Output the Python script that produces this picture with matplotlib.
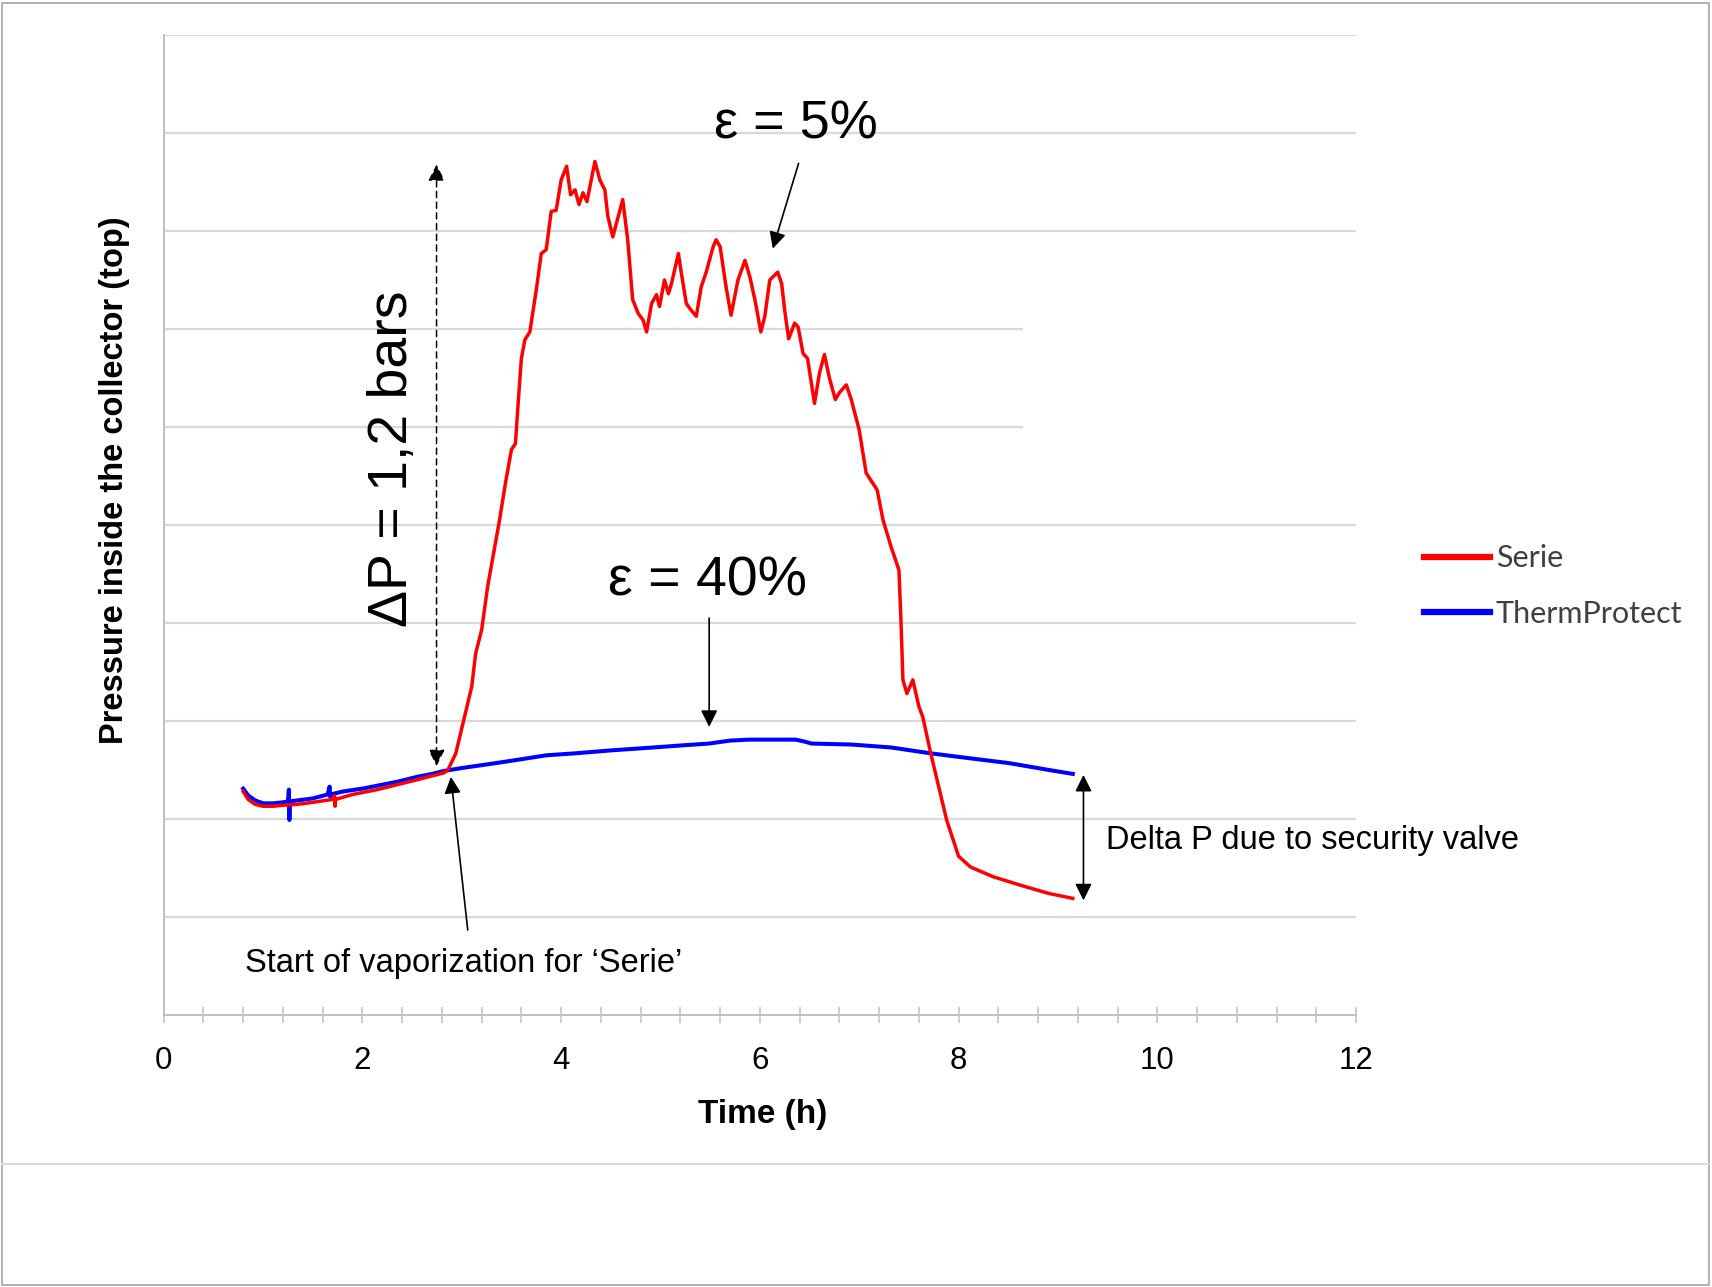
import matplotlib
matplotlib.use('Agg')
import matplotlib.pyplot as plt
from matplotlib.patches import Rectangle
from matplotlib.lines import Line2D

plt.rcParams['font.family'] = ['Liberation Sans', 'DejaVu Sans']

# ---------------- data ----------------
series_names = ['Serie', 'ThermProtect']

time_serie = [0.80, 0.85, 0.92, 1.00, 1.10, 1.20, 1.35, 1.50, 1.70, 1.72, 1.725, 1.73,
              1.90, 2.15, 2.35, 2.55, 2.70, 2.82, 2.86, 2.94, 3.02, 3.10, 3.14, 3.20,
              3.26, 3.32, 3.38, 3.44, 3.50, 3.54, 3.57, 3.60, 3.635, 3.685, 3.75, 3.80,
              3.85, 3.90, 3.95, 4.00, 4.055, 4.095, 4.14, 4.18, 4.22, 4.26, 4.34, 4.39,
              4.44, 4.47, 4.52, 4.62, 4.67, 4.72, 4.775, 4.825, 4.86, 4.91, 4.96, 4.99,
              5.04, 5.08, 5.11, 5.18, 5.21, 5.26, 5.31, 5.36, 5.41, 5.46, 5.53, 5.56,
              5.60, 5.66, 5.71, 5.78, 5.85, 5.90, 5.95, 5.97, 6.01, 6.05, 6.10, 6.13,
              6.18, 6.22, 6.25, 6.29, 6.35, 6.385, 6.435, 6.48, 6.55, 6.60, 6.65, 6.70,
              6.76, 6.80, 6.87, 6.92, 7.00, 7.07, 7.18, 7.24, 7.32, 7.40, 7.42, 7.44,
              7.48, 7.54, 7.60, 7.64, 7.72, 7.80, 7.88, 8.00, 8.12, 8.35, 8.67, 8.91, 9.15]
p_serie = [2.28, 2.20, 2.15, 2.13, 2.13, 2.14, 2.15, 2.17, 2.20, 2.24, 2.13, 2.20,
           2.25, 2.30, 2.35, 2.40, 2.44, 2.47, 2.50, 2.67, 3.01, 3.35, 3.69, 3.93,
           4.37, 4.71, 5.05, 5.43, 5.77, 5.83, 6.28, 6.70, 6.89, 6.97, 7.40, 7.77,
           7.81, 8.20, 8.21, 8.52, 8.66, 8.37, 8.42, 8.27, 8.39, 8.30, 8.71, 8.52,
           8.42, 8.15, 7.94, 8.32, 7.91, 7.30, 7.16, 7.09, 6.97, 7.26, 7.35, 7.23,
           7.50, 7.36, 7.46, 7.77, 7.57, 7.26, 7.19, 7.13, 7.43, 7.58, 7.84, 7.91,
           7.84, 7.43, 7.14, 7.50, 7.70, 7.53, 7.30, 7.19, 6.97, 7.13, 7.50, 7.53,
           7.58, 7.46, 7.19, 6.90, 7.06, 7.02, 6.75, 6.70, 6.24, 6.55, 6.74, 6.50,
           6.28, 6.35, 6.43, 6.28, 5.97, 5.53, 5.36, 5.05, 4.78, 4.54, 4.03, 3.42,
           3.28, 3.42, 3.15, 3.04, 2.67, 2.33, 1.99, 1.62, 1.51, 1.41, 1.31, 1.24, 1.19]

time_therm = [0.80, 0.85, 0.92, 1.00, 1.10, 1.20, 1.25, 1.26, 1.265, 1.27, 1.35, 1.50,
              1.65, 1.67, 1.675, 1.68, 1.80, 2.00, 2.15, 2.35, 2.55, 2.70, 2.82, 3.00,
              3.34, 3.60, 3.85, 4.14, 4.50, 4.93, 5.20, 5.49, 5.70, 5.89, 6.10, 6.36,
              6.45, 6.52, 6.92, 7.32, 7.72, 8.11, 8.51, 8.91, 9.15]
p_therm = [2.31, 2.24, 2.19, 2.16, 2.16, 2.17, 2.18, 2.30, 1.99, 2.18, 2.19, 2.21,
           2.25, 2.33, 2.23, 2.25, 2.28, 2.31, 2.34, 2.38, 2.43, 2.46, 2.49, 2.52,
           2.57, 2.61, 2.65, 2.67, 2.70, 2.73, 2.75, 2.77, 2.80, 2.81, 2.81, 2.81,
           2.79, 2.77, 2.76, 2.73, 2.67, 2.62, 2.57, 2.50, 2.46]

x_major_ticks = [0, 2, 4, 6, 8, 10, 12]
x_tick_labels = ['0', '2', '4', '6', '8', '10', '12']
x_minor_ticks = [0.4, 0.8, 1.2, 1.6, 2.4, 2.8, 3.2, 3.6, 4.4, 4.8, 5.2, 5.6,
                 6.4, 6.8, 7.2, 7.6, 8.4, 8.8, 9.2, 9.6, 10.4, 10.8, 11.2, 11.6]
y_grid = [1, 2, 3, 4, 5, 6, 7, 8, 9, 10]

# ---------------- figure ----------------
W, H = 1712, 1287
fig = plt.figure(figsize=(W / 100, H / 100), dpi=100)
fig.patch.set_facecolor('white')

# outer frame and separator line
fig.add_artist(Rectangle((2 / W, 1 - 1285 / H), 1707 / W, 1282 / H,
                         transform=fig.transFigure, fill=False,
                         edgecolor='#a6a6a6', lw=1.2))
fig.add_artist(Line2D([2 / W, 1709 / W], [1 - 1164 / H, 1 - 1164 / H],
                      transform=fig.transFigure, color='#d9d9d9', lw=1.5))

ax = fig.add_axes([163.7 / W, 1 - 1015 / H, (1356 - 163.7) / W, (1015 - 35) / H])
ax.set_xlim(0, 12)
ax.set_ylim(0, 10)

grid_c = '#d9d9d9'
for yv in y_grid:
    if yv in (6, 7):
        ax.axhline(yv, xmin=0, xmax=8.64 / 12, color=grid_c, lw=1.6, zorder=0)
    else:
        ax.axhline(yv, color=grid_c, lw=1.6, zorder=0)

for s in ('top', 'right'):
    ax.spines[s].set_visible(False)
for s in ('left', 'bottom'):
    ax.spines[s].set_color('#bfbfbf')
    ax.spines[s].set_linewidth(1.4)

ax.set_yticks([])
ax.set_xticks(x_major_ticks)
ax.set_xticklabels(x_tick_labels)
ax.set_xticks(x_minor_ticks, minor=True)
ax.tick_params(axis='x', which='both', direction='inout', length=12, width=1.1,
               color='#bfbfbf')
ax.tick_params(axis='x', which='major', labelsize=22.5, pad=16.5, labelcolor='black')

l1, = ax.plot(time_serie, p_serie, color='#ff0000', lw=2.5, zorder=3,
              label=series_names[0])
l2, = ax.plot(time_therm, p_therm, color='#0000ff', lw=2.9, zorder=2,
              label=series_names[1])

# axis titles
fig.text(123 / W, 1 - 480 / H, 'Pressure inside the collector (top)', rotation=90,
         rotation_mode='anchor', ha='center', va='baseline', fontsize=23.5,
         fontweight='bold')
fig.text(763 / W, 1 - 1122.7 / H, 'Time (h)', ha='center', va='baseline',
         fontsize=24, fontweight='bold')

# legend
leg = ax.legend(handles=[l1, l2], loc='center left',
                bbox_to_anchor=(1424 / W, 1 - 586 / H),
                bbox_transform=fig.transFigure, frameon=False,
                handlelength=2.15, handletextpad=0.2, labelspacing=0.9,
                borderpad=0, borderaxespad=0,
                prop={'family': 'Lato', 'size': 22})
for ln in leg.get_lines():
    ln.set_linewidth(4.5)
for t in leg.get_texts():
    t.set_color('#404040')

# annotations
arr = dict(arrowstyle='-|>', color='black', lw=1.2, mutation_scale=25,
           shrinkA=0, shrinkB=0)
arr2 = dict(arrowstyle='<|-|>', color='black', lw=1.2, mutation_scale=25,
            shrinkA=0, shrinkB=0)

ax.text(6.36, 8.94, 'ε = 5%', fontsize=39, ha='center', va='baseline')
ax.annotate('', xy=(6.13, 7.82), xytext=(6.39, 8.69), arrowprops=arr)

ax.text(2.45, 5.68, 'ΔP = 1,2 bars', rotation=90, rotation_mode='anchor',
        ha='center', va='baseline', fontsize=40)
ax.annotate('', xy=(2.746, 8.68), xytext=(2.746, 2.54),
            arrowprops=dict(arr2, lw=1.1, linestyle=(0, (4, 3))))

ax.text(5.47, 4.276, 'ε = 40%', fontsize=40, ha='center', va='baseline')
ax.annotate('', xy=(5.49, 2.94), xytext=(5.49, 4.05), arrowprops=arr)

ax.text(0.818, 0.44, 'Start of vaporization for ‘Serie’', fontsize=23.5,
        ha='left', va='baseline')
ax.annotate('', xy=(2.89, 2.43), xytext=(3.06, 0.867), arrowprops=arr)

ax.text(9.48, 1.69, 'Delta P due to security valve', fontsize=23.5,
        ha='left', va='baseline')
ax.annotate('', xy=(9.257, 2.45), xytext=(9.257, 1.17), arrowprops=arr2)

fig.savefig('out.png', dpi=100)
